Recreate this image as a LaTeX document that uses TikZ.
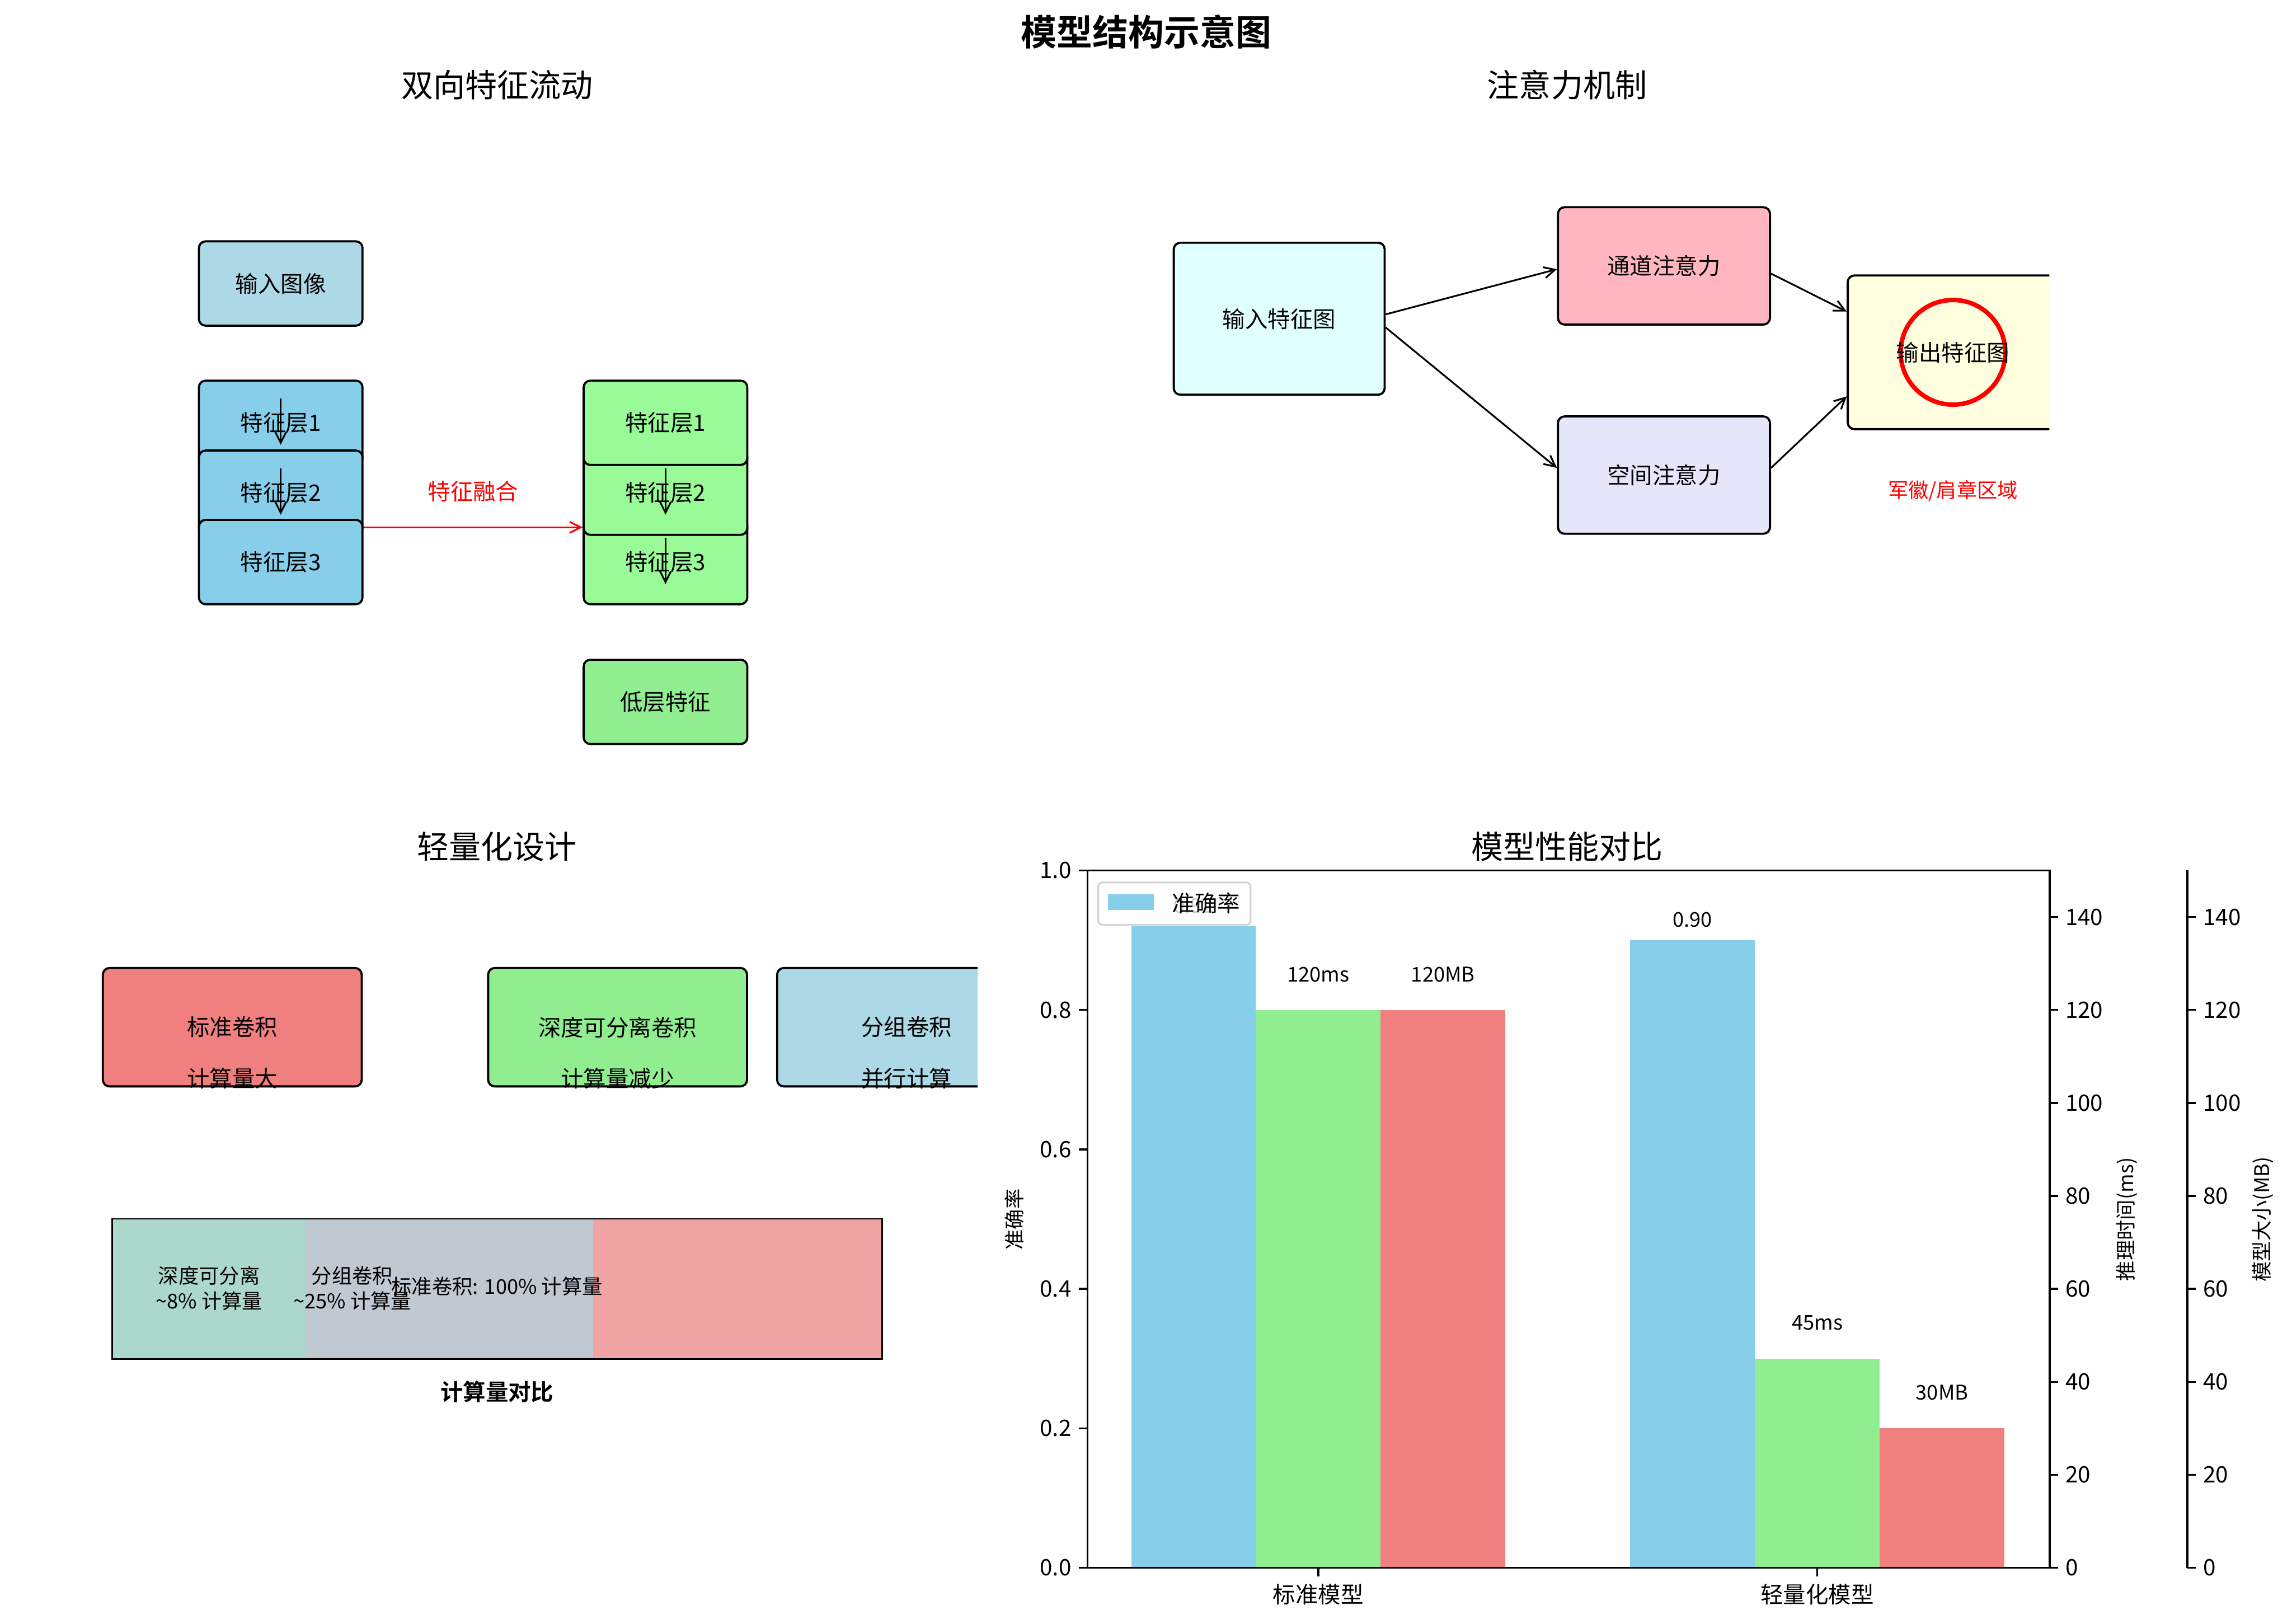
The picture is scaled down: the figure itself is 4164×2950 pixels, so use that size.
\documentclass[tikz,border=0pt]{standalone}
\usepackage{fontspec}
\setmainfont{Noto Sans CJK SC}[BoldFont={Noto Sans CJK SC Bold}]
\usetikzlibrary{arrows.meta}

\definecolor{lightblue}{HTML}{ADD8E6}
\definecolor{skyblue}{HTML}{87CEEB}
\definecolor{palegreen}{HTML}{98FB98}
\definecolor{lightgreen}{HTML}{90EE90}
\definecolor{lightcyan}{HTML}{E0FFFF}
\definecolor{lightpink}{HTML}{FFB6C1}
\definecolor{lavender}{HTML}{E6E6FA}
\definecolor{lightyellow}{HTML}{FFFFE0}
\definecolor{lightcoral}{HTML}{F08080}
\definecolor{segA}{HTML}{ACD8CC}
\definecolor{segB}{HTML}{C0C8D2}
\definecolor{segC}{HTML}{F0A4A4}

\newcommand{\titlesize}{\fontsize{18.5}{22}\selectfont}
\newcommand{\subsize}{\fontsize{16.5}{20}\selectfont}
\newcommand{\boxsize}{\fontsize{11.7}{14}\selectfont}
\newcommand{\smallsize}{\fontsize{10.5}{13}\selectfont}

\begin{document}
\begin{tikzpicture}[x=0.01cm, y=-0.01cm,
  box/.style={draw, line width=1.1pt, rounded corners=0.12cm, inner sep=0pt, font=\boxsize},
  layer/.style={box, minimum width=2.97cm, minimum height=1.53cm},
  attn/.style={box, minimum width=3.85cm, minimum height=2.13cm},
  convbox/.style={box, minimum width=4.7cm, minimum height=2.15cm},
  flow/.style={-{Straight Barb[length=2mm, width=2mm]}, line width=0.9pt},
  fuse/.style={flow, red},
  axisline/.style={line width=1pt},
  axtick/.style={line width=1pt},
  ticklabel/.style={font=\boxsize},
  note/.style={font=\smallsize},
  subtitle/.style={font=\subsize}
]
  \useasboundingbox (0,0) rectangle (4164,2950);

  % Titles
  \node[font=\bfseries\titlesize] (title) at (2082,58) {模型结构示意图};
  \node[subtitle] (t1) at (903,154) {双向特征流动};
  \node[subtitle] (t2) at (2847,154) {注意力机制};
  \node[subtitle] (t3) at (903,1538) {轻量化设计};
  \node[subtitle] (t4) at (2847,1538) {模型性能对比};

  % Bidirectional feature flow
  \node[layer, fill=lightblue] (img) at (510,515) {输入图像};
  \foreach \i/\y in {1/768, 2/895, 3/1021} {
    \node[layer, fill=skyblue] (b\i) at (510,\y) {特征层\i};
  }
  \foreach \i/\y in {3/1021, 2/895, 1/768} {
    \node[layer, fill=palegreen] (g\i) at (1209,\y) {特征层\i};
  }
  \node[layer, fill=lightgreen] (low) at (1209,1275) {低层特征};

  \foreach \n in {b1,b2,g2,g3} {
    \draw[flow] ([yshift=0.44cm]\n.center) -- ([yshift=-0.40cm]\n.center);
  }
  \draw[fuse] ([yshift=0.63cm]b3.east) -- ([yshift=0.63cm]g3.west)
    node[midway, yshift=0.65cm, font=\boxsize] (fuselbl) {特征融合};

  % Attention mechanism
  \node[box, fill=lightcyan, minimum width=3.83cm, minimum height=2.76cm] (inp) at (2324,579) {输入特征图};
  \node[attn, fill=lightpink] (chan) at (3023,483) {通道注意力};
  \node[attn, fill=lavender] (spat) at (3023,863) {空间注意力};
  \begin{scope}
    \clip (0,0) rectangle (3723,1400);
    \node[box, fill=lightyellow, minimum width=3.82cm, minimum height=2.79cm] (out) at (3548,640) {};
  \end{scope}
  \draw[red, line width=2.3pt] (out.center) circle (0.95cm);
  \node[font=\boxsize] (outlbl) at (out.center) {输出特征图};
  \node[note, red] (badge) at (3548,892) {军徽/肩章区域};

  \draw[flow] ([yshift=0.08cm]inp.east) -- ([yshift=-0.06cm]chan.west);
  \draw[flow] ([yshift=-0.16cm]inp.east) -- ([yshift=0.13cm]spat.west);
  \draw[flow] ([yshift=-0.14cm]chan.east) -- ([yshift=0.74cm]out.west);
  \draw[flow] ([yshift=0.13cm]spat.east) -- ([yshift=-0.8cm]out.west);

  % Lightweight design
  \foreach \n/\x/\col/\t/\s in {std/422/lightcoral/标准卷积/计算量大,
                                dw/1122/lightgreen/深度可分离卷积/计算量减少} {
    \node[convbox, fill=\col] (\n) at (\x,1866) {\t};
    \node[font=\boxsize] (\n sub) at ([yshift=0.16cm]\n.south) {\s};
  }
  \begin{scope}
    \clip (0,1500) rectangle (1776,2100);
    \node[convbox, fill=lightblue] (grp) at (1647,1866) {分组卷积};
  \end{scope}
  \node[font=\boxsize] (grpsub) at ([yshift=0.16cm]grp.south) {并行计算};

  \fill[segA] (204,2214) rectangle (554,2469);
  \fill[segB] (554,2214) rectangle (1078,2469);
  \fill[segC] (1078,2214) rectangle (1603,2469);
  \draw[line width=0.8pt] (204,2214) rectangle (1603,2469);
  \node[note, align=center] (dwtxt) at (380,2340) {深度可分离\\\textasciitilde8\% 计算量};
  \node[note, align=center] (grptxt) at (640,2340) {分组卷积\\\textasciitilde25\% 计算量};
  \node[note] (stdtxt) at (903,2337) {标准卷积: 100\% 计算量};
  \node[font=\bfseries\boxsize] (cmp) at (903,2528) {计算量对比};

  % Performance chart
  \begin{scope}[shift={(2395,2848)}, x=9.06cm, y=12.66cm]
    \foreach \g/\acc/\ms/\mb in {0/0.92/120/120, 1/0.90/45/30} {
      \fill[skyblue] (\g-0.375,0) rectangle (\g-0.125,\acc);
      \fill[lightgreen] (\g-0.125,0) rectangle (\g+0.125,\ms/150);
      \fill[lightcoral] (\g+0.125,0) rectangle (\g+0.375,\mb/150);
      \node[note] (acc\g) at (\g-0.25,\acc+0.029) {\acc};
      \node[note] (ms\g) at (\g,\ms/150+0.051) {\ms ms};
      \node[note] (mb\g) at (\g+0.25,\mb/150+0.051) {\mb MB};
    }
    \draw[axisline] (-0.4625,0) rectangle (1.4658,1);
    \draw[axisline] (1.7417,0) -- (1.7417,1);
    \foreach \v [count=\k] in {0.0,0.2,0.4,0.6,0.8,1.0} {
      \draw[axtick] (-0.4625,\v) -- ++(-0.16cm,0) node[ticklabel, anchor=east] (ya\k) {\v};
    }
    \foreach \t [count=\k] in {0,20,40,60,80,100,120,140} {
      \draw[axtick] (1.4658,\t/150) -- ++(0.15cm,0) node[ticklabel, anchor=west] (yb\k) {\t};
      \draw[axtick] (1.7417,\t/150) -- ++(0.15cm,0) node[ticklabel, anchor=west] (yc\k) {\t};
    }
    \foreach \x/\t [count=\k] in {0/标准模型, 1/轻量化模型} {
      \draw[axtick] (\x,0) -- ++(0,-0.16cm) node[ticklabel, below] (xt\k) {\t};
    }
  \end{scope}
  \node[note, rotate=90] (ylab1) at (1843,2215) {准确率};
  \node[note, rotate=90] (ylab2) at (3864,2215) {推理时间(ms)};
  \node[note, rotate=90] (ylab3) at (4111,2215) {模型大小(MB)};

  % Legend
  \filldraw[fill=white, fill opacity=0.8, draw=gray!35, line width=0.9pt, rounded corners=0.08cm]
    (1995,1603) rectangle (2272,1680);
  \fill[skyblue] (2013,1624) rectangle (2096,1653);
  \node[font=\boxsize] (legtxt) at (2191,1641) {准确率};
\end{tikzpicture}
\end{document}
